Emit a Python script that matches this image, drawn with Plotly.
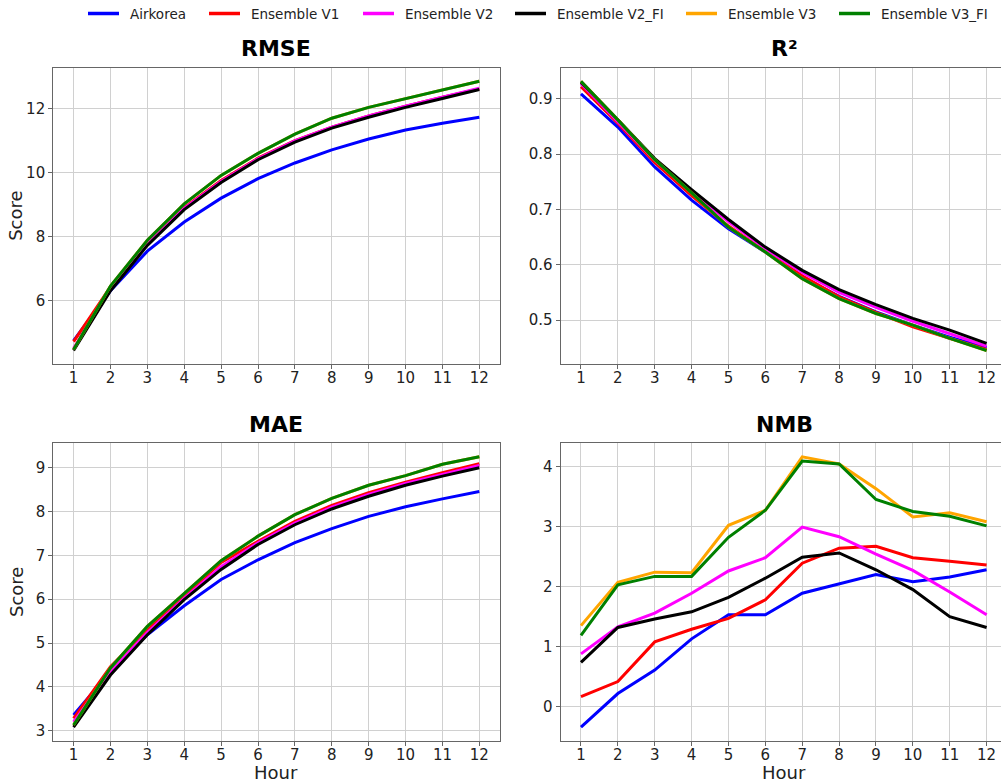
import plotly.graph_objects as go

hours = list(range(1, 13))
series_names = ["Airkorea", "Ensemble V1", "Ensemble V2", "Ensemble V2_FI", "Ensemble V3", "Ensemble V3_FI"]
colors = ["#0000ff", "#ff0000", "#ff00ff", "#000000", "#ffa500", "#008000"]

rmse_airkorea = [4.74, 6.30, 7.54, 8.45, 9.20, 9.81, 10.30, 10.71, 11.05, 11.33, 11.54, 11.73]
rmse_v1 = [4.71, 6.42, 7.78, 8.90, 9.75, 10.45, 11.00, 11.42, 11.77, 12.08, 12.36, 12.62]
rmse_v2 = [4.50, 6.35, 7.76, 8.88, 9.72, 10.43, 10.99, 11.42, 11.77, 12.08, 12.36, 12.64]
rmse_v2_fi = [4.43, 6.30, 7.72, 8.84, 9.69, 10.40, 10.95, 11.39, 11.73, 12.04, 12.32, 12.60]
rmse_v3 = [4.46, 6.45, 7.88, 9.02, 9.91, 10.60, 11.20, 11.70, 12.04, 12.32, 12.60, 12.86]
rmse_v3_fi = [4.46, 6.45, 7.88, 9.02, 9.91, 10.60, 11.20, 11.70, 12.04, 12.32, 12.60, 12.86]

r2_airkorea = [0.909, 0.849, 0.777, 0.717, 0.665, 0.623, 0.578, 0.543, 0.515, 0.491, 0.469, 0.450]
r2_v1 = [0.922, 0.856, 0.785, 0.725, 0.670, 0.624, 0.580, 0.542, 0.514, 0.488, 0.467, 0.447]
r2_v2 = [0.928, 0.859, 0.789, 0.731, 0.678, 0.629, 0.586, 0.550, 0.523, 0.498, 0.476, 0.453]
r2_v2_fi = [0.930, 0.862, 0.792, 0.736, 0.682, 0.632, 0.590, 0.555, 0.528, 0.503, 0.482, 0.458]
r2_v3 = [0.932, 0.862, 0.790, 0.730, 0.668, 0.623, 0.575, 0.539, 0.512, 0.491, 0.467, 0.445]
r2_v3_fi = [0.932, 0.862, 0.790, 0.730, 0.668, 0.623, 0.575, 0.539, 0.512, 0.491, 0.467, 0.445]

mae_airkorea = [3.36, 4.35, 5.19, 5.85, 6.45, 6.90, 7.29, 7.61, 7.89, 8.11, 8.29, 8.46]
mae_v1 = [3.28, 4.46, 5.30, 6.06, 6.84, 7.32, 7.78, 8.14, 8.43, 8.67, 8.89, 9.09]
mae_v2 = [3.20, 4.35, 5.24, 6.02, 6.74, 7.29, 7.74, 8.10, 8.39, 8.64, 8.85, 9.05]
mae_v2_fi = [3.08, 4.27, 5.19, 5.99, 6.68, 7.25, 7.70, 8.06, 8.35, 8.60, 8.81, 9.00]
mae_v3 = [3.13, 4.43, 5.38, 6.14, 6.88, 7.44, 7.93, 8.30, 8.60, 8.82, 9.08, 9.25]
mae_v3_fi = [3.13, 4.43, 5.38, 6.14, 6.88, 7.44, 7.93, 8.30, 8.60, 8.82, 9.08, 9.25]

nmb_airkorea = [-0.34, 0.22, 0.61, 1.13, 1.53, 1.53, 1.89, 2.04, 2.20, 2.08, 2.16, 2.28]
nmb_v1 = [0.17, 0.42, 1.08, 1.29, 1.47, 1.78, 2.39, 2.64, 2.67, 2.48, 2.42, 2.36]
nmb_v2 = [0.88, 1.33, 1.56, 1.89, 2.26, 2.48, 2.99, 2.83, 2.54, 2.27, 1.91, 1.53]
nmb_v2_fi = [0.74, 1.32, 1.46, 1.58, 1.82, 2.14, 2.49, 2.56, 2.28, 1.95, 1.50, 1.32]
nmb_v3 = [1.35, 2.07, 2.24, 2.23, 3.02, 3.27, 4.16, 4.04, 3.63, 3.16, 3.23, 3.08]
nmb_v3_fi = [1.19, 2.03, 2.17, 2.17, 2.82, 3.27, 4.09, 4.04, 3.45, 3.25, 3.17, 3.01]

panels = [
    ("RMSE", [rmse_airkorea, rmse_v1, rmse_v2, rmse_v2_fi, rmse_v3, rmse_v3_fi]),
    ("R²", [r2_airkorea, r2_v1, r2_v2, r2_v2_fi, r2_v3, r2_v3_fi]),
    ("MAE", [mae_airkorea, mae_v1, mae_v2, mae_v2_fi, mae_v3, mae_v3_fi]),
    ("NMB", [nmb_airkorea, nmb_v1, nmb_v2, nmb_v2_fi, nmb_v3, nmb_v3_fi]),
]

# body margin is removed by the post script, so screen pixels == figure pixels
W, H = 1001, 784


def px(x):
    return x / W


def py(y):
    return 1 - y / H


xdom_left = [px(53.3), px(499.6)]
xdom_right = [px(560.7), 1.0]
ydom_top = [py(364.0), py(67.7)]
ydom_bot = [py(740.7), py(443.3)]
doms = [(xdom_left, ydom_top), (xdom_right, ydom_top), (xdom_left, ydom_bot), (xdom_right, ydom_bot)]
title_y = [48.8, 48.8, 424.0, 424.0]
title_xc = [276.3, 784.0, 276.3, 784.0]

fig = go.Figure()
ff = "DejaVu Sans"
txt = "#222222"
annotations = []
shapes = []

for i, (title, data) in enumerate(panels):
    idx = "" if i == 0 else str(i + 1)
    xa, ya = "x" + idx, "y" + idx
    for j, (name, vals) in enumerate(zip(series_names, data)):
        fig.add_trace(go.Scatter(
            x=hours, y=vals, mode="lines", name=name,
            line=dict(color=colors[j], width=3),
            xaxis=xa, yaxis=ya, showlegend=False,
        ))
    xd, yd = doms[i]
    right = (i % 2 == 1)
    allv = [v for s in data for v in s]
    lo, hi = min(allv), max(allv)
    m = (hi - lo) * 0.05
    xrange = [0.45, 12.39] if right else [0.45, 12.55]
    xaxis = dict(
        domain=xd, anchor=ya, range=xrange, tickmode="array", tickvals=hours,
        ticktext=[str(h) for h in hours], showgrid=True, gridcolor="#d0d0d0", gridwidth=1,
        showline=True, linecolor="#666666", linewidth=1.2, mirror=True,
        ticks="outside", ticklen=4, tickcolor="#666666", ticklabelstandoff=-4,
        tickfont=dict(family=ff, size=15, color=txt), zeroline=False,
    )
    yaxis = dict(
        domain=yd, anchor=xa, range=[lo - m, hi + m], showgrid=True, gridcolor="#d0d0d0", gridwidth=1,
        showline=True, linecolor="#666666", linewidth=1.2, mirror=(not right),
        ticks="outside", ticklen=4, tickcolor="#666666",
        tickfont=dict(family=ff, size=15, color=txt), zeroline=False,
    )
    fig.update_layout(**{"xaxis" + idx: xaxis, "yaxis" + idx: yaxis})
    annotations.append(dict(
        text="<b>" + title + "</b>", x=px(title_xc[i]), y=py(title_y[i]),
        xref="paper", yref="paper", xanchor="center", yanchor="middle",
        showarrow=False, font=dict(family=ff, size=22, color="#000000"),
    ))
    if not right:
        annotations.append(dict(
            text="Score", x=px(16), y=(yd[0] + yd[1]) / 2, xref="paper", yref="paper",
            xanchor="center", yanchor="middle", textangle=-90, showarrow=False,
            font=dict(family=ff, size=18, color=txt),
        ))
    if i >= 2:
        annotations.append(dict(
            text="Hour", x=(xd[0] + (xd[1] if not right else px(1007))) / 2, y=py(772.0),
            xref="paper", yref="paper", xanchor="center", yanchor="middle", showarrow=False,
            font=dict(family=ff, size=18, color=txt),
        ))

# manual legend across the top
legend_x = [88, 209, 363, 515, 686, 839]
legend_y = 13.5
for name, col, lx in zip(series_names, colors, legend_x):
    shapes.append(dict(type="line", xref="paper", yref="paper",
                       x0=px(lx), x1=px(lx + 31), y0=py(legend_y), y1=py(legend_y),
                       line=dict(color=col, width=3.5)))
    annotations.append(dict(text=name, x=px(lx + 40), y=py(legend_y + 0.5), xref="paper", yref="paper",
                            xanchor="left", yanchor="middle", showarrow=False,
                            font=dict(family=ff, size=13.5, color=txt)))

fig.update_layout(
    width=W, height=H, margin=dict(l=0, r=0, t=0, b=0),
    paper_bgcolor="white", plot_bgcolor="white",
    annotations=annotations, shapes=shapes, showlegend=False,
)

fig.write_html(
    "out.html",
    config={"displayModeBar": False},
    post_script="document.body.style.margin='0';document.body.style.overflow='hidden';",
)
